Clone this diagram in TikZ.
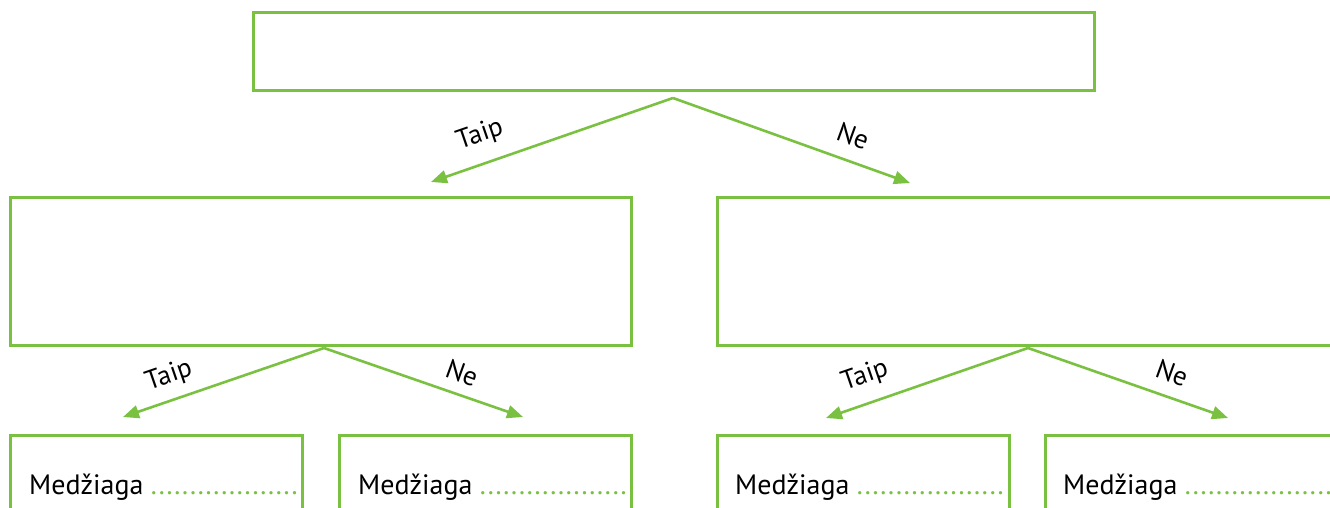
\documentclass[tikz,border=0pt]{standalone}
\usepackage{fontspec}
\setmainfont{PT Sans}
\usetikzlibrary{arrows.meta}
\definecolor{lgreen}{RGB}{122,193,66}
\newcommand{\mydots}{\textcolor{lgreen}{...................}}
\begin{document}
\begin{tikzpicture}[x=1pt,y=-1pt,
  box/.style={draw=lgreen, line width=3pt, anchor=north west, inner sep=0pt, outer sep=0pt},
  conn/.style={draw=lgreen, line width=2.6pt, -{Triangle[length=16pt,width=13pt]}},
  lab/.style={font=\fontsize{27}{32}\selectfont, inner sep=0pt},
  txt/.style={font=\fontsize{28}{34}\selectfont, anchor=base west, inner sep=0pt}]
\useasboundingbox (0,0) rectangle (1330,508);
\clip (0,0) rectangle (1330,508);
% boxes
\node[box, minimum width=841pt, minimum height=78pt] (top) at (253,13) {};
\node[box, minimum width=621pt, minimum height=148pt] (ml) at (10,197) {};
\node[box, minimum width=700pt, minimum height=148pt] (mr) at (717,197) {};
\node[box, minimum width=292pt, minimum height=120pt] (b1) at (10,435) {};
\node[box, minimum width=292pt, minimum height=120pt] (b2) at (339,435) {};
\node[box, minimum width=292pt, minimum height=120pt] (b3) at (717,435) {};
\node[box, minimum width=350pt, minimum height=120pt] (b4) at (1045,435) {};
% connector points
\coordinate (a0) at (673,98);
\coordinate (t1) at (431,182);
\coordinate (t2) at (910,183);
\coordinate (a1) at (324,348);
\coordinate (t3) at (123,417);
\coordinate (t4) at (523,417);
\coordinate (a2) at (1028,348);
\coordinate (t5) at (826,418);
\coordinate (t6) at (1228,418);
\draw[conn] (a0) -- (t1);
\draw[conn] (a0) -- (t2);
\draw[conn] (a1) -- (t3);
\draw[conn] (a1) -- (t4);
\draw[conn] (a2) -- (t5);
\draw[conn] (a2) -- (t6);
% labels
\node[lab, rotate=19] (l1) at (480,135) {Taip};
\node[lab, rotate=-20] (l2) at (853,136) {Ne};
\node[lab, rotate=19] (l3) at (169,376) {Taip};
\node[lab, rotate=-20] (l4) at (462,373) {Ne};
\node[lab, rotate=19] (l5) at (865,376) {Taip};
\node[lab, rotate=-20] (l6) at (1172,373) {Ne};
% texts
\node[txt] (m1) at (29,494) {Medžiaga \mydots};
\node[txt] (m2) at (358,494) {Medžiaga \mydots};
\node[txt] (m3) at (735,494) {Medžiaga \mydots};
\node[txt] (m4) at (1063,494) {Medžiaga \mydots};
\end{tikzpicture}
\end{document}
